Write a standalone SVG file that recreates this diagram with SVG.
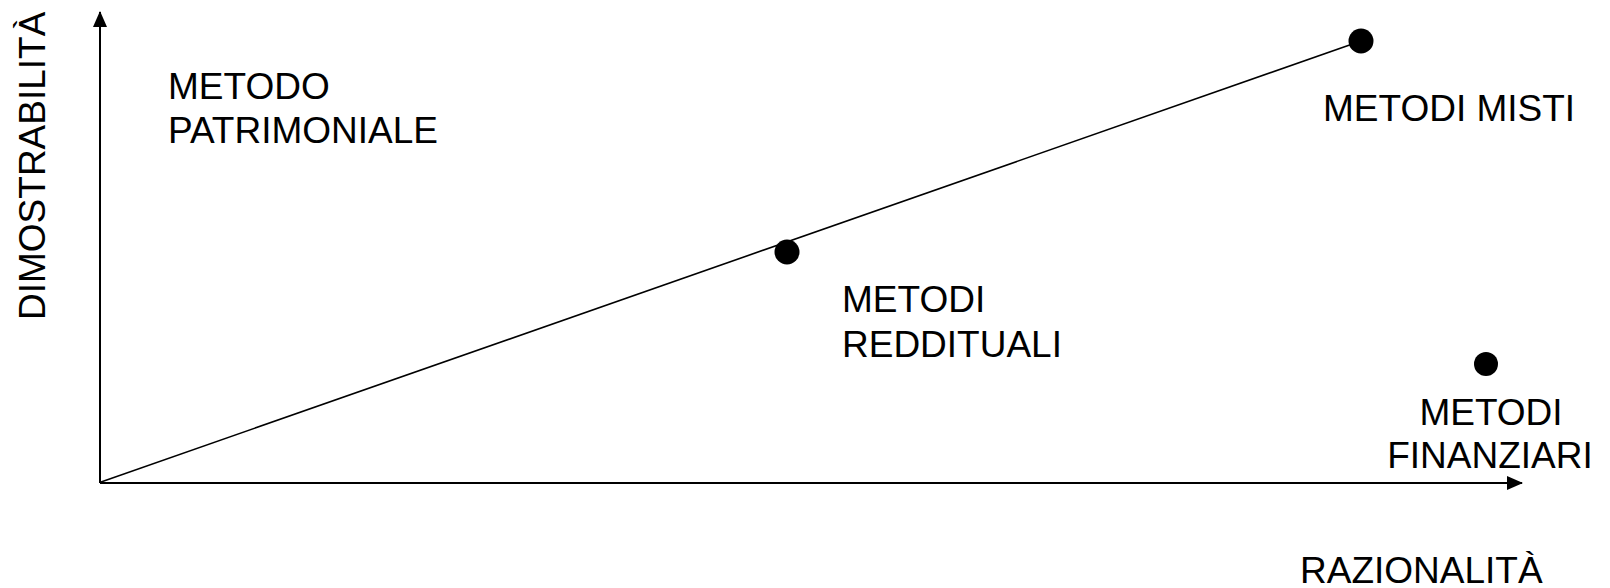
<svg xmlns="http://www.w3.org/2000/svg" width="1610" height="588" viewBox="0 0 1610 588">
<style>
text{font-family:"Liberation Sans",Arial,sans-serif;font-size:37px;fill:#000}
.ax{stroke:#000;stroke-width:2;fill:none}
.ln{stroke:#000;stroke-width:1.6;fill:none}
.dot{fill:#000}
</style>
<defs>
<marker id="arr" markerWidth="16" markerHeight="14" refX="15" refY="7" orient="auto" markerUnits="userSpaceOnUse">
<path d="M0,0 L16,7 L0,14 Z" fill="#000"/>
</marker>
</defs>
<g id="connectors">
<line class="ax" x1="100" y1="483" x2="100" y2="12" marker-end="url(#arr)"/>
<line class="ax" x1="100" y1="483" x2="1522" y2="483" marker-end="url(#arr)"/>
<line class="ln" x1="101" y1="482" x2="1361" y2="41"/>
</g>
<g id="axis-y-label"><text transform="translate(45,320) rotate(-90)">DIMOSTRABILITÀ</text></g>
<g id="axis-x-label"><text x="1300" y="583">RAZIONALITÀ</text></g>
<g id="metodo-patrimoniale"><text x="168" y="99">METODO</text><text x="168" y="143">PATRIMONIALE</text></g>
<g id="metodi-reddituali"><circle class="dot" cx="787" cy="252" r="12.5"/><text x="842" y="312">METODI</text><text x="842" y="357">REDDITUALI</text></g>
<g id="metodi-misti"><circle class="dot" cx="1361" cy="41" r="12.5"/><text x="1323" y="121">METODI MISTI</text></g>
<g id="metodi-finanziari"><circle class="dot" cx="1486" cy="364" r="12"/><text x="1491" y="425" text-anchor="middle">METODI</text><text x="1490" y="468" text-anchor="middle">FINANZIARI</text></g>
</svg>
